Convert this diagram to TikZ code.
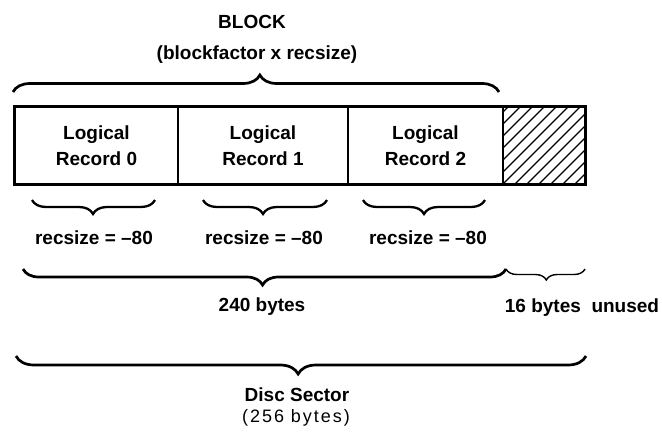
\documentclass[tikz,border=0pt]{standalone}
\usepackage{fontspec}
\setmainfont{Liberation Sans}
\usetikzlibrary{decorations.pathreplacing}
\tikzset{
  lbl/.style={font=\bfseries\fontsize{19}{26}\selectfont, inner sep=0pt},
  light/.style={font=\fontsize{18}{24}\selectfont\addfontfeatures{LetterSpace=11}, inner sep=0pt},
  cell/.style={draw, line width=1.6pt, minimum height=77pt, inner sep=0pt, align=center,
    font=\bfseries\fontsize{19}{26}\selectfont},
  bigbrace/.style={line width=2.7pt, decorate},
  smallbrace/.style={line width=2.3pt, decorate},
  thinbrace/.style={line width=1.4pt, decorate}
}
\begin{document}
\begin{tikzpicture}[x=1pt, y=-1pt]
\useasboundingbox (0,0) rectangle (662,432);

% top labels
\node[lbl] (block) at (252,22) {BLOCK};
\node[lbl] (bfx) at (257,55) {(blockfactor x recsize)};

% top brace
\coordinate (tbL) at (13,92);
\coordinate (tbR) at (499,92);
\draw[bigbrace, decoration={brace, amplitude=17pt, aspect=0.508}] (tbL) -- (tbR);

% record cells
\node[cell, minimum width=163pt] (r0) at (96.5,145.5) {Logical\\Record 0};
\node[cell, minimum width=170pt] (r1) at (263,145.5) {Logical\\Record 1};
\node[cell, minimum width=155pt] (r2) at (425.5,145.5) {Logical\\Record 2};
\node[cell, minimum width=82pt] (un) at (544,145.5) {};
\begin{scope}
  \clip (un.south west) rectangle (un.north east);
  \foreach \i in {-84,-72,...,96}
    \draw[line width=1.1pt] (503+\i,184) -- ++(77,-77);
\end{scope}
\draw[line width=1.6pt] (r0.north west) rectangle (un.south east);

% small braces
\coordinate (b0L) at (32,200);  \coordinate (b0R) at (155,200);
\coordinate (b1L) at (203,200); \coordinate (b1R) at (327,200);
\coordinate (b2L) at (363,200); \coordinate (b2R) at (485,200);
\draw[smallbrace, decoration={brace, mirror, amplitude=14pt, aspect=0.496}] (b0L) -- (b0R);
\draw[smallbrace, decoration={brace, mirror, amplitude=14pt, aspect=0.484}] (b1L) -- (b1R);
\draw[smallbrace, decoration={brace, mirror, amplitude=14pt, aspect=0.5}] (b2L) -- (b2R);

\node[lbl] (rs0) at (94,238) {recsize = –80};
\node[lbl] (rs1) at (264,238) {recsize = –80};
\node[lbl] (rs2) at (428,238) {recsize = –80};

% 240 / 16 braces
\coordinate (b240L) at (23,269);
\coordinate (b240R) at (506,269);
\coordinate (b16R) at (585,269);
\draw[bigbrace, decoration={brace, mirror, amplitude=16pt, aspect=0.496}] (b240L) -- (b240R);
\draw[thinbrace, decoration={brace, mirror, amplitude=11pt, aspect=0.51}] (b240R) -- (b16R);

\node[lbl] (t240) at (262,307) {240 bytes};
\node[lbl] (t16) at (582,308) {16 bytes\ \ unused};

% bottom brace
\coordinate (bsL) at (16,356);
\coordinate (bsR) at (586,356);
\draw[bigbrace, decoration={brace, mirror, amplitude=18pt, aspect=0.495}] (bsL) -- (bsR);

\node[lbl] (disc) at (297,395) {Disc Sector};
\node[light] (b256) at (296,418) {(256 bytes)};
\end{tikzpicture}
\end{document}
